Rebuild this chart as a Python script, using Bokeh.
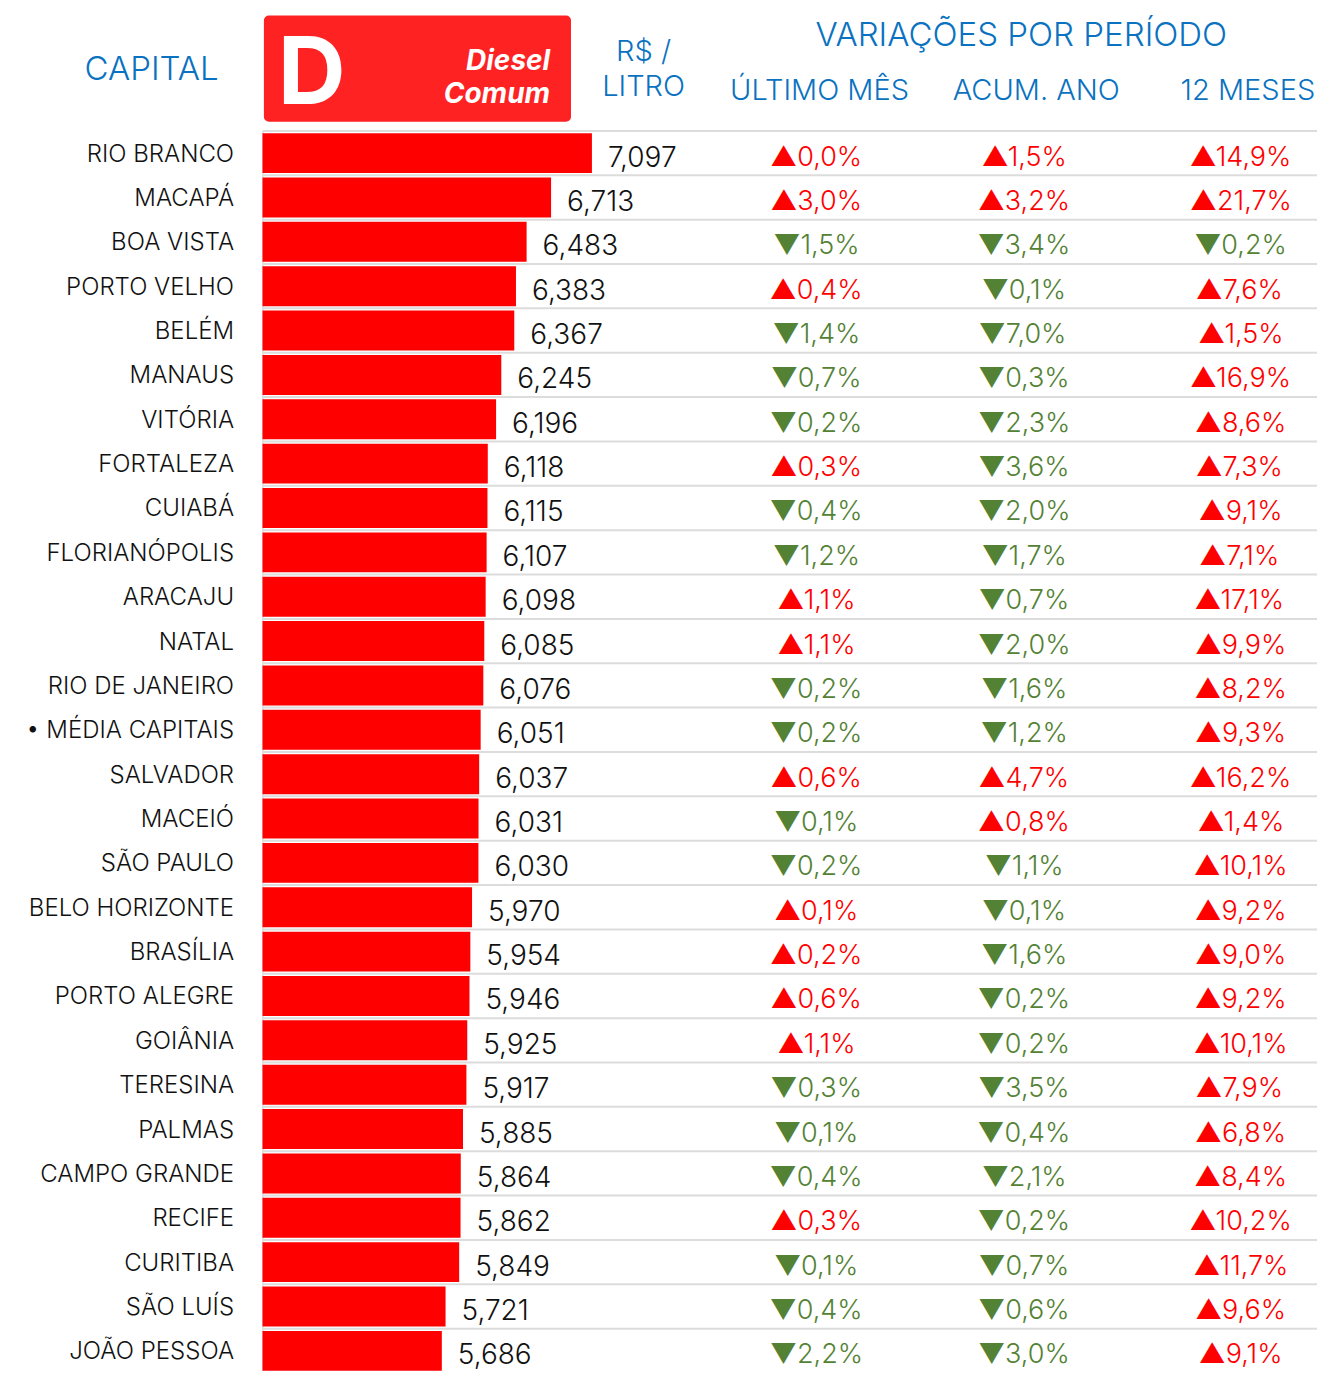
from bokeh.plotting import figure
from bokeh.models import Range1d, ColumnDataSource, BoxAnnotation
from bokeh.core.properties import value
from bokeh.embed import file_html
from bokeh.resources import INLINE

# ---------------- data ----------------
cities = ["RIO BRANCO", "MACAPÁ", "BOA VISTA", "PORTO VELHO", "BELÉM", "MANAUS",
          "VITÓRIA", "FORTALEZA", "CUIABÁ", "FLORIANÓPOLIS", "ARACAJU", "NATAL",
          "RIO DE JANEIRO", "• MÉDIA CAPITAIS", "SALVADOR", "MACEIÓ", "SÃO PAULO",
          "BELO HORIZONTE", "BRASÍLIA", "PORTO ALEGRE", "GOIÂNIA", "TERESINA",
          "PALMAS", "CAMPO GRANDE", "RECIFE", "CURITIBA", "SÃO LUÍS", "JOÃO PESSOA"]
price = [7.097, 6.713, 6.483, 6.383, 6.367, 6.245, 6.196, 6.118, 6.115, 6.107,
         6.098, 6.085, 6.076, 6.051, 6.037, 6.031, 6.030, 5.970, 5.954, 5.946,
         5.925, 5.917, 5.885, 5.864, 5.862, 5.849, 5.721, 5.686]
var_mes = [0.0, 3.0, -1.5, 0.4, -1.4, -0.7, -0.2, 0.3, -0.4, -1.2, 1.1, 1.1, -0.2,
           -0.2, 0.6, -0.1, -0.2, 0.1, 0.2, 0.6, 1.1, -0.3, -0.1, -0.4, 0.3, -0.1,
           -0.4, -2.2]
var_ano = [1.5, 3.2, -3.4, -0.1, -7.0, -0.3, -2.3, -3.6, -2.0, -1.7, -0.7, -2.0,
           -1.6, -1.2, 4.7, 0.8, -1.1, -0.1, -1.6, -0.2, -0.2, -3.5, -0.4, -2.1,
           -0.2, -0.7, -0.6, -3.0]
var_12m = [14.9, 21.7, -0.2, 7.6, 1.5, 16.9, 8.6, 7.3, 9.1, 7.1, 17.1, 9.9, 8.2,
           9.3, 16.2, 1.4, 10.1, 9.2, 9.0, 9.2, 10.1, 7.9, 6.8, 8.4, 10.2, 11.7,
           9.6, 9.1]
col_headers = ["ÚLTIMO MÊS", "ACUM. ANO", "12 MESES"]
bar_base = 4.0

# ---------------- style ----------------
FONT = "Inter Light, Inter, sans-serif"
BOLD = "Inter"
BLUE = "#0a72c0"
RED = "#ff0000"
GREEN = "#548235"
GRID = "#dcdcdc"

W, H = 1317, 1371
X0, X1, Y0, Y1 = 0, 1325, 0, 1379          # layout coordinates (reference pixels)
PX_PER_UNIT = 107.02
ZERO_PX = -164.5
ROW_PITCH = 44.62
ROW0 = 153.5

p = figure(width=W, height=H, output_backend="svg", toolbar_location=None,
           x_range=Range1d(X0, X1), y_range=Range1d(Y1, Y0),
           x_axis_location=None, y_axis_location=None, min_border=0)
p.grid.visible = False
p.outline_line_color = None
p.background_fill_color = "white"
p.border_fill_color = "white"
p.extra_x_ranges = {"price": Range1d((X0 - ZERO_PX) / PX_PER_UNIT, (X1 - ZERO_PX) / PX_PER_UNIT)}
p.extra_y_ranges = {"row": Range1d((Y1 - ROW0) / ROW_PITCH, (Y0 - ROW0) / ROW_PITCH)}

n = len(cities)
rows = list(range(n))


def fmt_pct(v):
    return ("▲" if v >= 0 else "▼") + f"{abs(v):.1f}".replace(".", ",") + "%"


src = ColumnDataSource(dict(
    row=rows, city=cities, price=price, base=[bar_base] * n,
    price_lbl=[f"{v:.3f}".replace(".", ",") for v in price],
    mes=[fmt_pct(v) for v in var_mes],
    ano=[fmt_pct(v) for v in var_ano],
    m12=[fmt_pct(v) for v in var_12m],
    mes_c=[RED if v >= 0 else GREEN for v in var_mes],
    ano_c=[RED if v >= 0 else GREEN for v in var_ano],
    m12_c=[RED if v >= 0 else GREEN for v in var_12m],
))

# grid lines between rows
bounds = [i - 0.5 for i in range(n + 1)]
p.segment(x0=[264] * len(bounds), x1=[X1] * len(bounds), y0=bounds, y1=bounds,
          line_color=GRID, line_width=2, y_range_name="row")
p.segment(x0=[264], x1=[264], y0=[-0.5], y1=[n], line_color=GRID, line_width=1.5,
          y_range_name="row")

# bars
p.hbar(y="row", left="base", right="price", height=0.9, source=src,
       fill_color=RED, line_color=None, x_range_name="price", y_range_name="row")

# value labels
p.text(x="price", y="row", text="price_lbl", source=src, x_offset=16, y_offset=3,
       text_font=value(FONT), text_font_size="28px", text_color="#111111",
       text_align="left", text_baseline="middle",
       x_range_name="price", y_range_name="row")

# city labels
p.text(x=235, y="row", text="city", source=src, text_font=value(FONT),
       text_font_size="24px", text_color="#111111", text_align="right",
       text_baseline="middle", y_range_name="row")

# variation columns
col_x = [821, 1030, 1248]
for cx, key in zip(col_x, ["mes", "ano", "m12"]):
    p.text(x=cx, y="row", text=key, source=src, y_offset=3, text_font=value(FONT),
           text_font_size="27px", text_color=key + "_c", text_align="center",
           text_baseline="middle", y_range_name="row")

# ---------------- header ----------------
p.add_layout(BoxAnnotation(left=265, right=574, top=15, bottom=122,
                           fill_color="#ff2222", fill_alpha=1, line_color=None,
                           border_radius=5, level="underlay"))
p.text(x=[279], y=[70], text=["D"], text_font=value(BOLD), text_font_style="bold",
       text_font_size="94px", text_color="white", text_align="left", text_baseline="middle")
p.text(x=[553, 553], y=[60, 93], text=["Diesel", "Comum"], text_font=value(BOLD),
       text_font_style="bold italic", text_font_size="28px", text_color="white",
       text_align="right", text_baseline="middle")

p.text(x=[152], y=[68], text=["CAPITAL"], text_font=value(FONT), text_font_size="33px",
       text_color=BLUE, text_align="center", text_baseline="middle")
p.text(x=[647, 647], y=[50, 85], text=["R$ /", "LITRO"], text_font=value(FONT),
       text_font_size="29px", text_color=BLUE, text_align="center", text_baseline="middle")
p.text(x=[1027], y=[34], text=["VARIAÇÕES POR PERÍODO"], text_font=value(FONT),
       text_font_size="33px", text_color=BLUE, text_align="center", text_baseline="middle")
p.text(x=[824, 1042, 1255], y=[90, 90, 90], text=col_headers, text_font=value(FONT),
       text_font_size="29px", text_color=BLUE, text_align="center", text_baseline="middle")

open("out.html", "w").write(file_html(p, INLINE))
